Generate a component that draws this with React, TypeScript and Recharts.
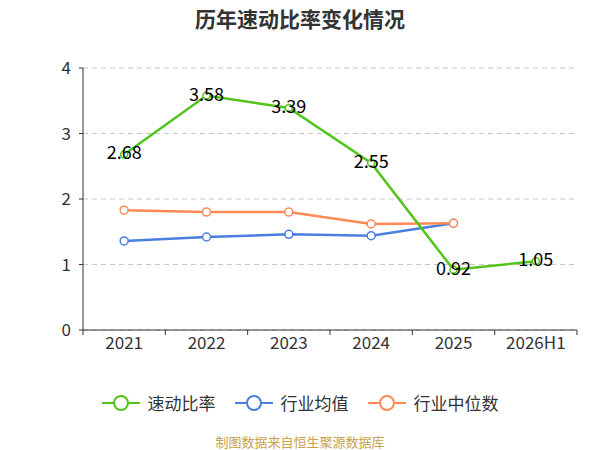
import { LineChart, Line, XAxis, YAxis, CartesianGrid } from "recharts";

const years = ["2021", "2022", "2023", "2024", "2025", "2026H1"];
const quickRatio = [2.68, 3.58, 3.39, 2.55, 0.92, 1.05];
const industryMean = [1.36, 1.42, 1.46, 1.44, 1.63, null];
const industryMedian = [1.83, 1.8, 1.8, 1.62, 1.63, null];
const yTicks = [0, 1, 2, 3, 4];

const data = years.map((year, i) => ({
  year,
  quick: quickRatio[i],
  mean: industryMean[i],
  median: industryMedian[i],
}));

const FONT = "'Noto Sans CJK SC', 'Noto Sans', sans-serif";

const series = [
  { key: "quick", name: "速动比率", color: "#52c41a" },
  { key: "mean", name: "行业均值", color: "#4a7fe0" },
  { key: "median", name: "行业中位数", color: "#ff8a56" },
];

const HALF_BAND = (577 - 83) / years.length / 2;

const PointLabel = (props: any) => {
  const { x, y, value } = props;
  if (value == null) return null;
  return (
    <text x={x} y={y - 3} textAnchor="middle" dominantBaseline="central" fontSize={18} fill="#000" fontFamily={FONT}>
      {value.toFixed(2)}
    </text>
  );
};

// tick label at band centre, tick mark at band boundary (plus the closing one)
const XTick = (props: any) => {
  const { x, y, payload, index } = props;
  const top = y - 9;
  return (
    <g>
      <line x1={x - HALF_BAND} y1={top} x2={x - HALF_BAND} y2={top + 5} stroke="#333" />
      {index === years.length - 1 && (
        <line x1={x + HALF_BAND} y1={top} x2={x + HALF_BAND} y2={top + 5} stroke="#333" />
      )}
      <text x={x} y={y + 10} textAnchor="middle" fontSize={17} fill="#333" fontFamily={FONT}>
        {payload.value}
      </text>
    </g>
  );
};

const LegendRow = () => (
  <div style={{ display: "flex", justifyContent: "center", gap: 19, fontFamily: FONT, fontSize: 17, color: "#333" }}>
    {series.map((s) => (
      <div key={s.key} style={{ display: "flex", alignItems: "center" }}>
        <svg width={38} height={18} style={{ marginRight: 8 }}>
          <line x1={0} y1={9} x2={38} y2={9} stroke={s.color} strokeWidth={2} />
          <circle cx={19} cy={9} r={7} fill="#fff" stroke={s.color} strokeWidth={2} />
        </svg>
        {s.name}
      </div>
    ))}
  </div>
);

export default function App() {
  return (
    <div style={{ position: "absolute", left: 0, top: 0, width: 600, height: 450, background: "#fff", fontFamily: FONT }}>
      <div style={{ position: "absolute", top: 3, width: 600, textAlign: "center", fontSize: 21, fontWeight: "bold", color: "#333" }}>
        历年速动比率变化情况
      </div>
      <LineChart width={600} height={380} data={data} margin={{ top: 68, right: 23, left: 0, bottom: 20 }}>
        <CartesianGrid vertical={false} strokeDasharray="5 4" stroke="#c8c8c8" />
        <XAxis
          dataKey="year"
          scale="band"
          tick={<XTick />}
          tickLine={false}
          axisLine={{ stroke: "#333" }}
          tickSize={0}
          tickMargin={9}
          height={30}
          interval={0}
        />
        <YAxis
          width={83}
          domain={[0, 4]}
          ticks={yTicks}
          tick={{ fontSize: 17, fill: "#333", fontFamily: FONT }}
          tickLine={{ stroke: "#333" }}
          axisLine={{ stroke: "#333" }}
          tickSize={4}
          tickMargin={8}
        />
        <Line
          dataKey="mean"
          name="行业均值"
          stroke="#4a7fe0"
          strokeWidth={2.5}
          dot={{ r: 4, fill: "#fff", stroke: "#4a7fe0", strokeWidth: 1.5 }}
          isAnimationActive={false}
        />
        <Line
          dataKey="median"
          name="行业中位数"
          stroke="#ff8a56"
          strokeWidth={2.5}
          dot={{ r: 4, fill: "#fff", stroke: "#ff8a56", strokeWidth: 1.5 }}
          isAnimationActive={false}
        />
        <Line
          dataKey="quick"
          name="速动比率"
          stroke="#52c41a"
          strokeWidth={2.5}
          dot={{ r: 3.5, fill: "#fff", stroke: "#52c41a", strokeWidth: 1.5 }}
          label={<PointLabel />}
          isAnimationActive={false}
        />
      </LineChart>
      <div style={{ position: "absolute", top: 390, width: 600 }}>
        <LegendRow />
      </div>
      <div style={{ position: "absolute", top: 432, width: 600, textAlign: "center", fontSize: 13, color: "#c9a24a" }}>
        制图数据来自恒生聚源数据库
      </div>
    </div>
  );
}
